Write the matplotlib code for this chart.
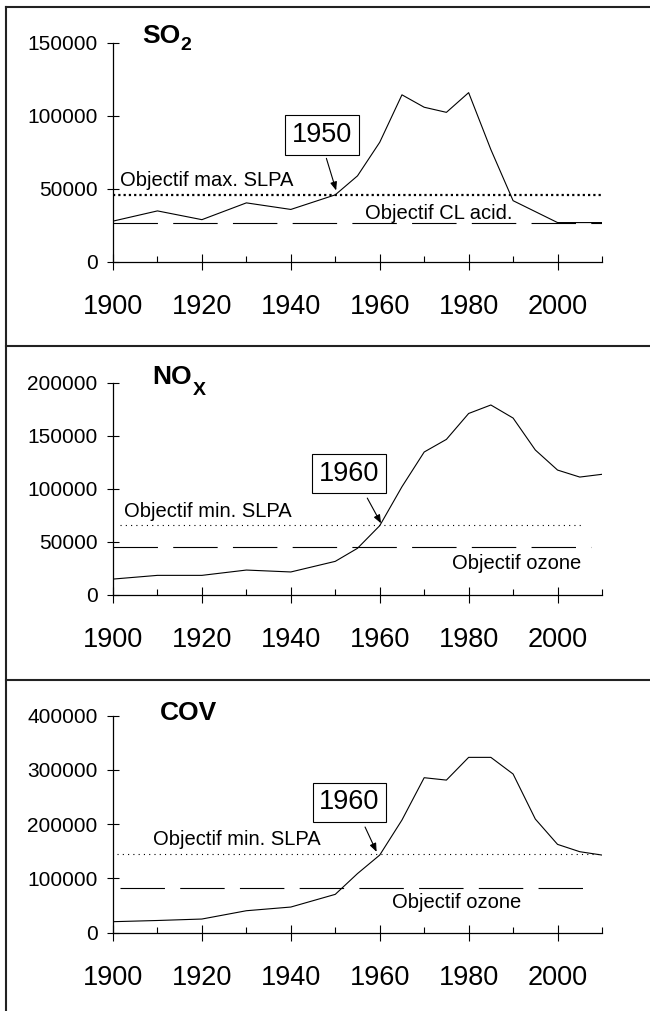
#Emissions historiques SO2 / NOx / COV avec objectifs
import matplotlib.pyplot as plt
from matplotlib.lines import Line2D
from matplotlib.ticker import MultipleLocator

plt.rcParams['font.family'] = ['Liberation Sans', 'DejaVu Sans']
plt.rcParams['lines.scale_dashes'] = False

# SO2
so2_years = [1900, 1910, 1920, 1930, 1940, 1950, 1955, 1960, 1965, 1970, 1975, 1980, 1985, 1990, 2000, 2010]
so2_values = [28000, 35000, 29000, 40500, 36000, 46000, 59000, 82000, 114500, 106000, 102500, 116000, 77000, 42000, 27000, 27000]
so2_slpa = 46000
so2_acid = 26500

# NOx
nox_years = [1900, 1910, 1920, 1930, 1940, 1950, 1955, 1960, 1965, 1970, 1975, 1980, 1985, 1990, 1995, 2000, 2005, 2010]
nox_values = [15000, 18500, 18500, 23500, 21700, 31700, 44000, 65300, 102000, 134700, 146600, 171000, 179000, 166700, 136600, 117700, 111100, 113700]
nox_slpa = 66000
nox_ozone = 45000

# COV
cov_years = [1900, 1910, 1920, 1930, 1940, 1950, 1955, 1960, 1965, 1970, 1975, 1980, 1985, 1990, 1995, 2000, 2005, 2010]
cov_values = [20300, 22500, 25200, 40500, 47300, 70700, 109000, 143100, 207700, 285700, 281300, 323200, 323200, 292500, 209500, 162800, 149300, 143100]
cov_slpa = 145000
cov_ozone = 81500

fig = plt.figure(figsize=(6.5, 10.11), dpi=100)
W, H = 650.0, 1011.0

# panel frames (three stacked chart objects)
fig.add_artist(Line2D([6/W, 6/W], [0, 1-7/H], transform=fig.transFigure, color='#222222', lw=1.5))
for yy in [7, 346, 680]:
    fig.add_artist(Line2D([6/W, 1], [1-yy/H, 1-yy/H], transform=fig.transFigure, color='#222222', lw=1.5))

ax1 = fig.add_axes([113/W, 1-262/H, 489/W, 219/H])
ax2 = fig.add_axes([113/W, 1-595/H, 489/W, 212.3/H])
ax3 = fig.add_axes([113/W, 1-932.7/H, 489/W, 217/H])


def style(ax, ymax, ystep):
    ax.set_xlim(1900, 2010)
    ax.set_ylim(0, ymax)
    ax.spines['top'].set_visible(False)
    ax.spines['right'].set_visible(False)
    ax.spines['left'].set_linewidth(0.9)
    ax.spines['bottom'].set_linewidth(0.9)
    ax.xaxis.set_major_locator(MultipleLocator(20))
    ax.xaxis.set_minor_locator(MultipleLocator(10))
    ax.yaxis.set_major_locator(MultipleLocator(ystep))
    ax.tick_params(axis='x', which='major', direction='inout', length=12, width=0.8, labelsize=19.5, pad=17)
    ax.tick_params(axis='x', which='minor', direction='in', length=4.5, width=0.8)
    ax.tick_params(axis='y', which='major', direction='inout', length=8, width=0.8, labelsize=15, pad=7)
    ax.patch.set_alpha(0)


def title(ax, x, y, main, sub, drop):
    t = ax.text(x, y, main, fontsize=19, fontweight='bold', va='baseline', ha='left', clip_on=False)
    ax.annotate(sub, xy=(1, 0), xycoords=t, xytext=(0.5, drop), textcoords='offset points',
                fontsize=14, fontweight='bold', va='baseline', ha='left', annotation_clip=False)


def year_box(ax, x, y, label, start, tip):
    ax.text(x, y, label, fontsize=19.5, ha='center', va='center',
            bbox=dict(boxstyle='square,pad=0.25', fc='white', ec='black', lw=0.8))
    ax.annotate('', xy=tip, xytext=start,
                arrowprops=dict(arrowstyle='-|>,head_length=0.5,head_width=0.2', color='black',
                                lw=0.8, shrinkA=0, shrinkB=0))


# SO2 panel
style(ax1, 150000, 50000)
ax1.hlines(so2_slpa, 1900, 2010, colors='black', lw=1.6, linestyles=(0, (1.6, 2.2)))
ax1.hlines(so2_acid, 1900, 2010, colors='black', lw=0.8, linestyles=(0, (32, 11)))
ax1.plot(so2_years, so2_values, color='black', lw=0.8)
ax1.text(1901.6, 55500, 'Objectif max. SLPA', fontsize=14.5, va='center', ha='left')
ax1.text(1956.7, 33200, 'Objectif CL acid.', fontsize=14.5, va='center', ha='left')
title(ax1, 1906.5, 149800, 'SO', '2', -1.5)
year_box(ax1, 1947, 87000, '1950', (1948, 71000), (1950.2, 49000))

# NOx panel
style(ax2, 200000, 50000)
ax2.hlines(nox_slpa, 1901.5, 2006, colors='black', lw=0.8, linestyles=(0, (0.8, 3)))
ax2.hlines(nox_ozone, 1900, 2007.5, colors='black', lw=0.8, linestyles=(0, (32, 11)))
ax2.plot(nox_years, nox_values, color='black', lw=0.8)
ax2.text(1902.5, 78400, 'Objectif min. SLPA', fontsize=14.5, va='center', ha='left')
ax2.text(1976.2, 29800, 'Objectif ozone', fontsize=14.5, va='center', ha='left')
title(ax2, 1908.8, 198400, 'NO', 'X', -4)
year_box(ax2, 1953, 114400, '1960', (1957.2, 91300), (1960.3, 67500))

# COV panel
style(ax3, 400000, 100000)
ax3.hlines(cov_slpa, 1901, 2010, colors='black', lw=0.8, linestyles=(0, (0.8, 3)))
ax3.hlines(cov_ozone, 1901.6, 2008.5, colors='black', lw=0.8, linestyles=(0, (32, 11)))
ax3.plot(cov_years, cov_values, color='black', lw=0.8)
ax3.text(1909.1, 170900, 'Objectif min. SLPA', fontsize=14.5, va='center', ha='left')
ax3.text(1962.8, 56000, 'Objectif ozone', fontsize=14.5, va='center', ha='left')
ax3.text(1910.5, 392000, 'COV', fontsize=19, fontweight='bold', va='baseline', ha='left', clip_on=False)
year_box(ax3, 1953.2, 240400, '1960', (1956.7, 194800), (1959.3, 149000))

fig.savefig('out.png', dpi=100)
